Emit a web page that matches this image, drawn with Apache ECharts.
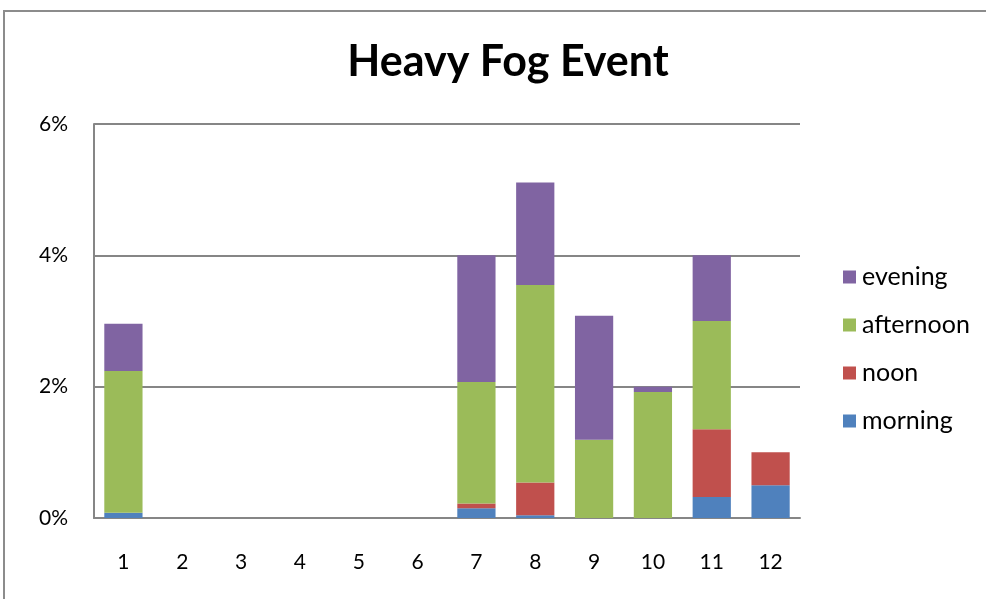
<!DOCTYPE html>
<html>
<head>
<meta charset="utf-8">
<title>Heavy Fog Event</title>
<script src="https://cdn.jsdelivr.net/npm/echarts@6/dist/echarts.min.js"></script>
<style>
  html, body { margin: 0; padding: 0; background: #fff; }
  #frame { position: absolute; left: 3px; top: 10px; width: 1000px; height: 600px; border: 2px solid #8c8c8c; box-sizing: border-box; }
  #chart { position: absolute; left: 0; top: 0; width: 986px; height: 599px; }
</style>
</head>
<body>
<div id="frame"></div>
<div id="chart"></div>
<script>
// Months of the year
const months = ['1', '2', '3', '4', '5', '6', '7', '8', '9', '10', '11', '12'];

// Share of heavy-fog observations (%) by time of day
const morning   = [0.08, 0, 0, 0, 0, 0, 0.15, 0.04, 0, 0, 0.32, 0.50];
const noon      = [0, 0, 0, 0, 0, 0, 0.07, 0.50, 0, 0, 1.03, 0.50];
const afternoon = [2.16, 0, 0, 0, 0, 0, 1.85, 3.01, 1.19, 1.92, 1.65, 0];
const evening   = [0.72, 0, 0, 0, 0, 0, 1.93, 1.56, 1.89, 0.08, 1.00, 0];

// Value axis ticks (%)
const yTicks = [0, 2, 4, 6];

const fontFamily = 'Lato, "Open Sans", sans-serif';
const colors = { morning: '#4f81bd', noon: '#c0504d', afternoon: '#9bbb59', evening: '#8064a2' };

function barSeries(name, values) {
  return {
    name: name,
    type: 'bar',
    stack: 'total',
    data: values,
    barCategoryGap: '35%',
    itemStyle: { color: colors[name] }
  };
}

const chart = echarts.init(document.getElementById('chart'), null, { renderer: 'canvas' });
chart.setOption({
  animation: false,
  backgroundColor: 'transparent',
  title: {
    text: 'Heavy Fog Event',
    left: 503,
    textAlign: 'center',
    top: 36,
    textStyle: { fontFamily: fontFamily, fontWeight: 'bold', fontSize: 43, color: '#000' }
  },
  grid: { left: 94, right: 186, top: 124, bottom: 81, containLabel: false },
  legend: {
    orient: 'vertical',
    left: 838,
    top: 258,
    itemWidth: 13,
    itemHeight: 13,
    itemGap: 20,
    icon: 'rect',
    data: ['evening', 'afternoon', 'noon', 'morning'],
    textStyle: { fontFamily: fontFamily, fontSize: 25, lineHeight: 28, color: '#000', padding: [0, 0, 0, 1] }
  },
  xAxis: {
    type: 'category',
    data: months,
    axisLine: { lineStyle: { color: '#868686', width: 2 } },
    axisTick: { show: false },
    axisLabel: { fontFamily: fontFamily, fontSize: 21, color: '#000', margin: 34 }
  },
  yAxis: {
    type: 'value',
    min: yTicks[0],
    max: yTicks[yTicks.length - 1],
    interval: 2,
    axisLine: { show: true, lineStyle: { color: '#868686', width: 2 } },
    axisTick: { show: false },
    splitLine: { lineStyle: { color: '#868686', width: 2 } },
    axisLabel: { fontFamily: fontFamily, fontSize: 21, color: '#000', margin: 26, formatter: '{value}%' }
  },
  series: [
    barSeries('morning', morning),
    barSeries('noon', noon),
    barSeries('afternoon', afternoon),
    barSeries('evening', evening)
  ]
});
</script>
</body>
</html>
